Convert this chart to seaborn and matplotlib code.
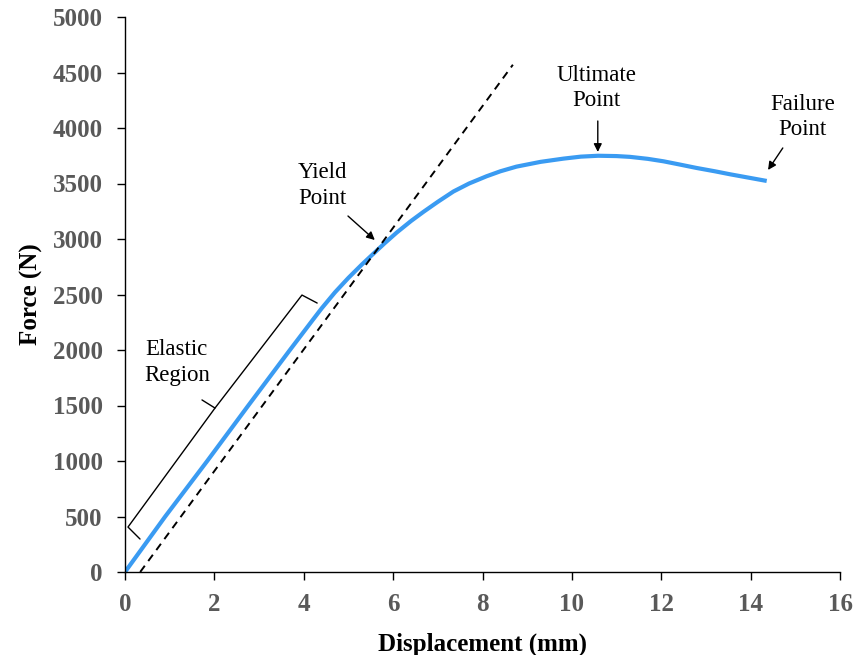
import matplotlib
matplotlib.use("Agg")
import matplotlib.pyplot as plt
import seaborn as sns
import pandas as pd

# ---- data ----
displacement = [0, 0.9, 1.84, 2.76, 3.69, 4.2, 4.4, 4.7, 5.0, 5.3, 5.56, 5.8,
                6.08, 6.4, 6.68, 7.0, 7.35, 7.7, 8.09, 8.4, 8.76, 9.3, 9.81,
                10.2, 10.59, 11.0, 11.3, 11.7, 12.05, 12.4, 12.79, 13.2, 13.54,
                13.95, 14.36]
force = [0, 500, 1000, 1500, 2000, 2270, 2375, 2520, 2650, 2770, 2868, 2958,
         3058, 3162, 3245, 3335, 3428, 3500, 3565, 3610, 3652, 3695, 3724,
         3742, 3750, 3747, 3740, 3722, 3700, 3672, 3640, 3610, 3583,
         3553, 3523]

offset_x = [0.34, 8.68]
offset_y = [0, 4570]

x_ticks = list(range(0, 17, 2))
y_ticks = list(range(0, 5001, 500))

sns.set_theme(style="white")
plt.rcParams["font.family"] = ["Liberation Serif", "DejaVu Serif"]

fig = plt.figure(figsize=(8.57, 6.55), dpi=100)
ax = fig.add_axes([125 / 857, 1 - 572 / 655, (840 - 125) / 857, (572 - 17) / 655])

df = pd.DataFrame({"Displacement": displacement, "Force": force})
sns.lineplot(data=df, x="Displacement", y="Force", ax=ax, color="#3A9BF2",
             linewidth=3.0, solid_capstyle="butt", solid_joinstyle="round")
ax.plot(offset_x, offset_y, color="black", linestyle=(0, (4, 3)), linewidth=1.4)

ax.set_xlim(0, 16)
ax.set_ylim(0, 5000)
ax.set_xticks(x_ticks)
ax.set_yticks(y_ticks)
ax.tick_params(axis="both", which="major", direction="out", length=6, width=1,
               color="black", labelsize=18, labelcolor="#595959",
               bottom=True, left=True)
ax.tick_params(axis="y", pad=10)
ax.tick_params(axis="x", pad=9)
for lab in ax.get_xticklabels() + ax.get_yticklabels():
    lab.set_fontweight("bold")
for side in ["top", "right"]:
    ax.spines[side].set_visible(False)
for side in ["left", "bottom"]:
    ax.spines[side].set_color("black")
    ax.spines[side].set_linewidth(1)

ax.set_xlabel("Displacement (mm)", fontsize=18, fontweight="bold", color="black", labelpad=12)
ax.set_ylabel("Force (N)", fontsize=18, fontweight="bold", color="black", labelpad=7)

# Elastic region brace
brace_x = [0.336, 0.067, 2.014, 1.723]
brace_y = [297, 405, 1477, 1550]
ax.plot(brace_x, brace_y, color="black", linewidth=1, solid_joinstyle="round")
brace_x2 = [2.014, 3.96, 4.30]
brace_y2 = [1477, 2495, 2423]
ax.plot(brace_x2, brace_y2, color="black", linewidth=1, solid_joinstyle="round")

ann_font = dict(fontsize=16.5, color="black", ha="center", va="center", linespacing=1.3)
ax.text(1.16, 1890, "Elastic\nRegion", **ann_font)

arrow = dict(arrowstyle="-|>", color="black", lw=1, mutation_scale=12, shrinkA=0, shrinkB=0)
ax.text(4.41, 3480, "Yield\nPoint", **ann_font)
ax.annotate("", xy=(5.59, 2991), xytext=(4.99, 3207), arrowprops=arrow)

ax.text(10.56, 4360, "Ultimate\nPoint", **ann_font)
ax.annotate("", xy=(10.58, 3784), xytext=(10.58, 4063), arrowprops=arrow)

ax.text(15.17, 4100, "Failure\nPoint", **ann_font)
ax.annotate("", xy=(14.39, 3622), xytext=(14.72, 3820), arrowprops=arrow)

fig.savefig("out.png", dpi=100)
